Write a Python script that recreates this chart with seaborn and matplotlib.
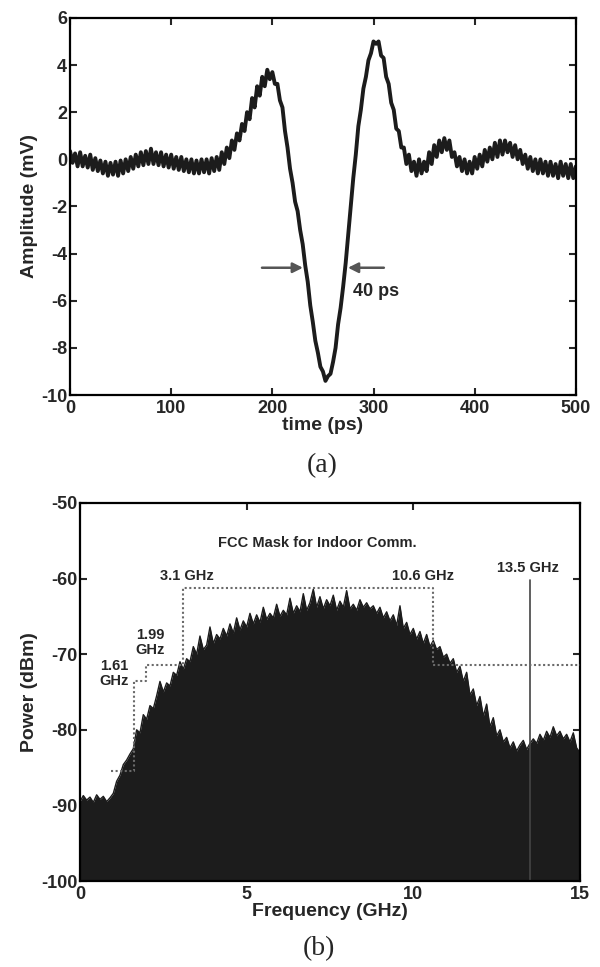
import numpy as np
import matplotlib
matplotlib.use("Agg")
import matplotlib.pyplot as plt
import seaborn as sns

# (a) pulse waveform, read every 2.5 ps (noisy trace)
t_ps = np.arange(0, 500.1, 2.5)
amp_mv = [0.35, -0.15, 0.25, -0.3, 0.3, -0.3, 0.15, -0.35, 0.2, -0.45,
          0.05, -0.5, -0.05, -0.6, -0.1, -0.7, -0.15, -0.65, -0.1, -0.7,
          -0.05, -0.6, 0.0, -0.5, 0.1, -0.4, 0.2, -0.3, 0.3, -0.25,
          0.35, -0.2, 0.45, -0.2, 0.3, -0.25, 0.3, -0.3, 0.2, -0.35,
          0.2, -0.4, 0.1, -0.45, 0.1, -0.5, 0.0, -0.55, 0.0, -0.6,
          -0.05, -0.6, 0.0, -0.55, 0.0, -0.6, 0.05, -0.5, 0.1, -0.45,
          0.3, -0.2, 0.5, 0.05, 0.8, 0.4, 1.1, 0.8, 1.5, 1.2,
          2.0, 1.7, 2.6, 2.2, 3.1, 2.7, 3.5, 3.1, 3.8, 3.4,
          3.7, 3.2, 3.2, 2.5, 2.2, 1.2, 0.5, -0.4, -1.0, -1.8,
          -2.2, -3.0, -3.6, -4.5, -5.2, -6.2, -6.9, -7.7, -8.2, -8.8,
          -9.0, -9.4, -9.2, -9.1, -8.6, -8.0, -7.0, -6.3, -5.4, -4.4,
          -3.2, -2.0, -0.8, 0.2, 1.4, 2.1, 3.0, 3.5, 4.2, 4.5,
          5.0, 4.9, 5.0, 4.4, 4.3, 3.5, 3.2, 2.4, 2.1, 1.3,
          1.2, 0.5, 0.5, -0.2, 0.2, -0.5, -0.1, -0.7, 0.0, -0.6,
          -0.1, -0.5, 0.3, -0.2, 0.6, 0.1, 0.8, 0.3, 0.9, 0.4,
          0.8, 0.1, 0.3, -0.3, 0.1, -0.5, 0.0, -0.6, -0.1, -0.6,
          0.1, -0.4, 0.2, -0.3, 0.4, -0.1, 0.5, 0.0, 0.7, 0.1,
          0.8, 0.2, 0.8, 0.3, 0.7, 0.1, 0.6, 0.0, 0.4, -0.2,
          0.2, -0.4, 0.1, -0.5, 0.0, -0.6, 0.0, -0.6, -0.1, -0.7,
          -0.1, -0.7, -0.2, -0.8, -0.1, -0.7, -0.2, -0.8, -0.2, -0.8,
          -0.3]

# (b) spectrum, read every 0.1 GHz
freq_ghz = np.round(np.arange(0, 15.05, 0.1), 1)
power_dbm = [-89.5, -88.7, -89.3, -88.9, -89.6, -88.6, -89.2, -88.8, -89.5, -89.0,
             -88.4, -86.8, -86.0, -84.6, -84.0, -83.2, -82.5, -80.0, -80.4, -78.0,
             -78.6, -76.8, -77.2, -75.5, -73.6, -75.0, -73.8, -74.2, -72.4, -72.8,
             -71.0, -72.0, -70.6, -71.0, -69.0, -70.0, -67.6, -69.4, -68.8, -66.4,
             -68.6, -67.4, -68.0, -66.6, -67.6, -66.0, -67.2, -65.2, -66.8, -65.6,
             -66.4, -64.6, -66.0, -64.8, -65.8, -63.8, -65.4, -64.6, -65.2, -63.4,
             -65.0, -64.2, -64.8, -62.6, -64.6, -63.6, -64.4, -62.0, -64.2, -63.2,
             -61.4, -63.8, -62.4, -64.0, -62.8, -63.6, -62.2, -64.2, -63.0, -63.8,
             -61.6, -64.0, -63.4, -64.2, -62.8, -63.8, -63.2, -64.0, -63.6, -64.6,
             -63.8, -65.2, -64.4, -65.6, -64.8, -66.2, -63.6, -66.6, -65.8, -67.4,
             -66.6, -68.0, -67.0, -68.6, -67.4, -69.0, -68.2, -69.4, -69.0, -70.4,
             -70.0, -71.2, -70.6, -72.4, -71.6, -73.6, -72.4, -75.4, -74.6, -76.8,
             -75.6, -78.2, -76.6, -79.6, -78.4, -80.8, -80.0, -81.6, -81.0, -82.4,
             -81.6, -82.8, -82.0, -81.4, -82.6, -81.8, -81.2, -81.8, -80.6, -81.4,
             -80.2, -81.0, -79.6, -80.8, -80.2, -81.2, -80.6, -81.6, -80.4, -82.4,
             -83.0]

# FCC indoor mask corners
mask_f = [0.92, 1.61, 1.61, 1.99, 1.99, 3.1, 3.1, 10.6, 10.6, 15.0]
mask_p = [-85.5, -85.5, -73.5, -73.5, -71.4, -71.4, -61.3, -61.3, -71.4, -71.4]

sns.set_style("ticks")
plt.rcParams['font.family'] = ['Liberation Sans', 'DejaVu Sans']
plt.rcParams['font.weight'] = 'bold'
plt.rcParams['axes.unicode_minus'] = False

fig = plt.figure(figsize=(6, 9.67), dpi=100)
ax1 = fig.add_axes([0.1167, 0.5915, 0.843, 0.390])
ax2 = fig.add_axes([0.1333, 0.0889, 0.8333, 0.391])

ink = "#1c1c1c"

# top panel
sns.lineplot(x=t_ps, y=amp_mv, ax=ax1, color=ink, lw=2.8, estimator=None)
ax1.set_xlim(0, 500)
ax1.set_ylim(-10, 6)
ax1.set_xticks(range(0, 501, 100))
ax1.set_yticks(range(-10, 7, 2))
ax1.set_xlabel("time (ps)", fontsize=14, fontweight="bold", labelpad=0)
ax1.set_ylabel("Amplitude (mV)", fontsize=14, fontweight="bold", labelpad=2)
arrow = dict(arrowstyle="-|>", color="#555555", lw=1.8, mutation_scale=15)
ax1.annotate("", xy=(233, -4.6), xytext=(187, -4.6), arrowprops=arrow)
ax1.annotate("", xy=(272, -4.6), xytext=(313, -4.6), arrowprops=arrow)
ax1.text(280, -5.6, "40 ps", fontsize=13, fontweight="bold", va="center")

# bottom panel
ax2.fill_between(freq_ghz, power_dbm, -100, color=ink, lw=0)
sns.lineplot(x=freq_ghz, y=power_dbm, ax=ax2, color=ink, lw=1.0, estimator=None)
sns.lineplot(x=mask_f, y=mask_p, ax=ax2, color="#6a6a6a", lw=1.5,
             linestyle=(0, (1, 1.2)), sort=False, estimator=None, zorder=5)
ax2.plot([13.5, 13.5], [-60.2, -100], color="#444444", lw=1.2)
ax2.set_xlim(0, 15)
ax2.set_ylim(-100, -50)
ax2.set_xticks([0, 5, 10, 15])
ax2.set_yticks(range(-100, -49, 10))
ax2.set_xlabel("Frequency (GHz)", fontsize=14, fontweight="bold", labelpad=0)
ax2.set_ylabel("Power (dBm)", fontsize=14, fontweight="bold", labelpad=2)

lab = dict(fontsize=10.5, fontweight="bold", ha="center", va="center")
ax2.text(7.13, -55.3, "FCC Mask for Indoor Comm.", **lab)
ax2.text(3.2, -59.7, "3.1 GHz", **lab)
ax2.text(10.3, -59.7, "10.6 GHz", **lab)
ax2.text(13.45, -58.6, "13.5 GHz", **lab)
ax2.text(2.1, -68.5, "1.99\nGHz", linespacing=1.1, **lab)
ax2.text(1.03, -72.6, "1.61\nGHz", linespacing=1.1, **lab)

for ax in (ax1, ax2):
    ax.tick_params(direction="in", length=5, width=1.5, top=True, right=True,
                   labelsize=13, pad=2)
    ax.tick_params(axis="x", pad=3.5)
    for lbl in ax.get_xticklabels() + ax.get_yticklabels():
        lbl.set_fontweight("bold")
    for sp in ax.spines.values():
        sp.set_linewidth(1.6)
        sp.set_color("black")

fig.text(0.537, 0.519, "(a)", fontsize=20, fontweight="normal",
         family="Liberation Serif", ha="center", va="center")
fig.text(0.532, 0.019, "(b)", fontsize=20, fontweight="normal",
         family="Liberation Serif", ha="center", va="center")

fig.savefig("out.png", dpi=100)
